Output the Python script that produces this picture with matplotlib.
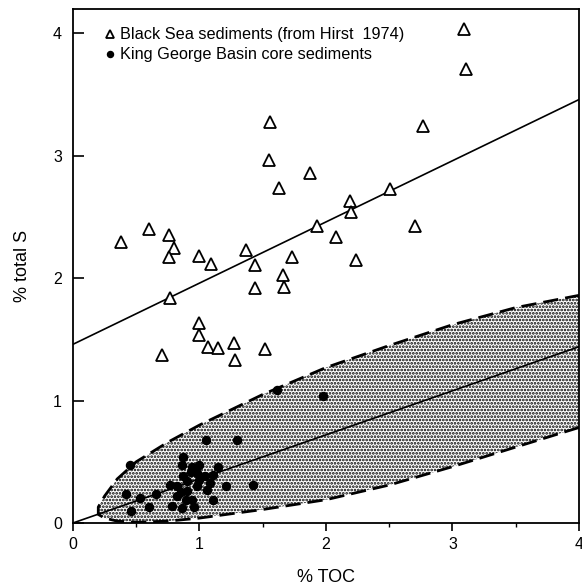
import matplotlib.pyplot as plt

plt.rcParams['font.family'] = ['Liberation Sans', 'DejaVu Sans']
plt.rcParams['hatch.linewidth'] = 1.3

# Black Sea sediments (from Hirst 1974)
bs_toc = [0.38, 0.60, 0.76, 0.80, 0.76, 1.00, 1.09, 1.37, 1.44, 1.44, 1.73, 1.66,
          1.67, 1.56, 1.55, 1.63, 0.77, 3.09, 3.11, 2.77, 1.87, 2.51, 2.19, 2.20,
          1.93, 2.08, 2.70, 2.24, 1.00, 1.00, 1.07, 1.15, 1.27, 1.28, 1.52, 0.70]
bs_s = [2.30, 2.40, 2.35, 2.25, 2.17, 2.18, 2.12, 2.23, 2.11, 1.92, 2.17, 2.03,
        1.93, 3.28, 2.97, 2.74, 1.84, 4.04, 3.71, 3.24, 2.86, 2.73, 2.63, 2.54,
        2.43, 2.34, 2.43, 2.15, 1.63, 1.54, 1.44, 1.43, 1.47, 1.33, 1.42, 1.37]

# King George Basin core sediments
kg_toc = [0.45, 0.42, 0.46, 0.53, 0.60, 0.66, 1.05, 1.30, 0.87, 0.86, 0.94, 1.00,
          0.98, 1.15, 1.11, 0.87, 0.77, 0.82, 0.90, 1.00, 1.04, 0.90, 0.98, 0.82,
          0.89, 0.78, 0.86, 0.96, 1.11, 1.21, 1.42, 1.61, 1.98, 0.94, 1.06, 0.93,
          0.85, 1.08]
kg_s = [0.47, 0.24, 0.10, 0.20, 0.13, 0.24, 0.68, 0.68, 0.54, 0.47, 0.46, 0.47,
        0.41, 0.46, 0.39, 0.38, 0.31, 0.30, 0.34, 0.35, 0.38, 0.26, 0.30, 0.22,
        0.19, 0.14, 0.12, 0.13, 0.19, 0.30, 0.31, 1.09, 1.04, 0.19, 0.27, 0.42,
        0.25, 0.33]

# regression lines (intercept, slope)
bs_fit = (1.46, 0.50)
kg_fit = (0.0, 0.36)

# envelope of King George Basin data
env_x = [0.20, 0.25, 0.35, 0.50, 0.75, 1.00, 1.50, 2.00, 2.50, 3.00, 3.50, 4.00]
env_upper = [0.13, 0.22, 0.36, 0.50, 0.66, 0.80, 1.05, 1.27, 1.45, 1.62, 1.76, 1.86]
env_lower = [0.07, 0.04, 0.015, 0.005, 0.015, 0.04, 0.11, 0.19, 0.31, 0.46, 0.62, 0.78]

fig = plt.figure(figsize=(5.82, 5.84), dpi=100)
ax = fig.add_axes([0.1254, 0.1045, 0.8694, 0.8801])

ax.fill_between(env_x, env_lower, env_upper, facecolor='white', edgecolor='black',
                hatch='.....', linewidth=0, zorder=1)
ax.plot(env_x[::-1] + env_x, env_lower[::-1] + env_upper, color='black', lw=2.0,
        linestyle=(0, (5.5, 2.5)), zorder=2)

xx = [0, 4]
ax.plot(xx, [bs_fit[0] + bs_fit[1] * v for v in xx], color='black', lw=1.2, zorder=2)
ax.plot(xx, [kg_fit[0] + kg_fit[1] * v for v in xx], color='black', lw=1.2, zorder=2)

ax.plot(bs_toc, bs_s, linestyle='none', marker='^', ms=8, mfc='white', mec='black',
        mew=1.3, label='Black Sea sediments (from Hirst  1974)', zorder=3)
ax.plot(kg_toc, kg_s, linestyle='none', marker='o', ms=5.8, color='black',
        label='King George Basin core sediments', zorder=3)

ax.set_xlim(0, 4)
ax.set_ylim(0, 4.2)
ax.set_xticks([0, 1, 2, 3, 4])
ax.set_xticks([0.5, 1.5, 2.5, 3.5], minor=True)
ax.set_yticks([0, 1, 2, 3, 4])
ax.tick_params(axis='x', direction='out', length=6, width=1.2, labelsize=11.5, pad=4)
ax.tick_params(axis='x', which='minor', direction='out', length=3, width=1.0)
ax.tick_params(axis='y', direction='in', length=8, width=1.2, labelsize=11.5, pad=8)
for s in ax.spines.values():
    s.set_linewidth(1.3)

ax.set_xlabel('% TOC', fontsize=13, labelpad=12)
ax.set_ylabel('% total S', fontsize=13, labelpad=16)

ax.legend(loc='upper left', bbox_to_anchor=(0.048, 0.977), borderaxespad=0,
          frameon=False, fontsize=11.7, handletextpad=0.2, labelspacing=0.3,
          handlelength=0.8, markerscale=0.75)

fig.savefig('out.png', dpi=100)
